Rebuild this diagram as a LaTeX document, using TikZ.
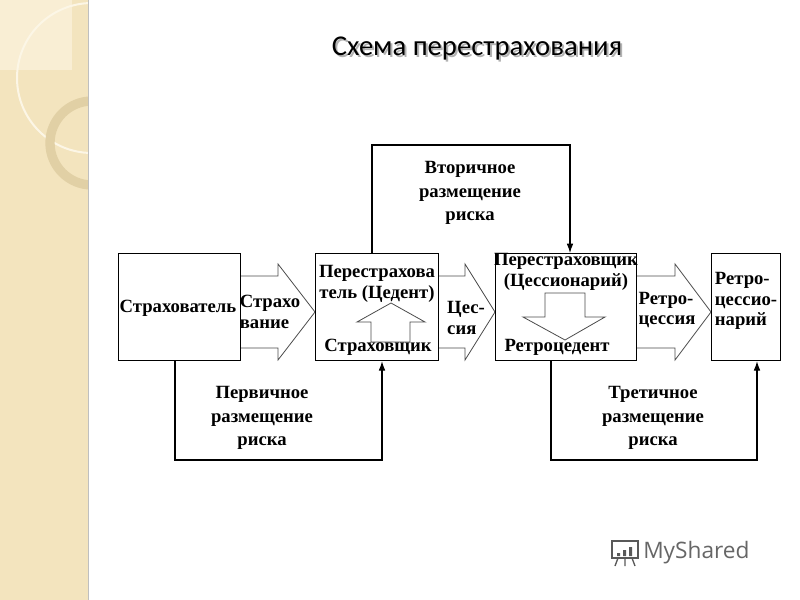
\documentclass[tikz,border=0pt]{standalone}
\usepackage{fontspec}
\setmainfont{Liberation Serif}
\newfontfamily\titlefont{Carlito}
\newfontfamily\logofont{Open Sans}
\usetikzlibrary{arrows.meta}
\definecolor{strip}{RGB}{243,228,190}
\definecolor{stripl}{RGB}{249,238,212}
\definecolor{ring}{RGB}{225,208,165}
\definecolor{ringw}{RGB}{252,246,230}
\begin{document}
\begin{tikzpicture}[x=0.75pt,y=-0.75pt,
  box/.style={draw=black,line width=0.9pt},
  lbl/.style={font=\fontsize{14}{15.5}\selectfont\bfseries,align=center,inner sep=0pt},
  lbl3/.style={lbl,font=\fontsize{14}{17.5}\selectfont\bfseries},
  con/.style={draw=black,line width=0.8pt},
  arr/.style={con,-{Latex[length=7pt,width=5pt]}},
  blk/.style={draw=black!70,line width=0.6pt,fill=white}]
\useasboundingbox (0,0) rectangle (800,600);
% left strip
\fill[strip] (0,0) rectangle (88,600);
\begin{scope}
\clip (0,0) rectangle (88,600);
\fill[stripl] (0,0) rectangle (72,70);
\draw[ringw,line width=1.5pt] (92,78) circle[radius=75];
\draw[ring,line width=7pt] (92,143) circle[radius=42];
\end{scope}
\draw[black!25,line width=0.6pt] (88,0) -- (88,600);
% title
\node[font=\titlefont\fontsize{21.5}{23}\selectfont,text=black!30] (tsh) at (479,51) {Схема перестрахования};
\node[font=\titlefont\fontsize{21.5}{23}\selectfont] (title) at (477,49) {Схема перестрахования};
% block arrows
\draw[blk] (240,276) -- (278,276) -- (278,264) -- (315,312) -- (278,360) -- (278,348) -- (240,348);
\draw[blk] (438,276) -- (465,276) -- (465,264) -- (495,312) -- (465,360) -- (465,348) -- (438,348);
\draw[blk] (636,276) -- (675,276) -- (675,264) -- (711,312) -- (675,360) -- (675,348) -- (636,348);
% boxes
\node[box,minimum width=122*0.75pt,minimum height=107*0.75pt,anchor=north west] (A) at (118,253) {};
\node[box,minimum width=123*0.75pt,minimum height=107*0.75pt,anchor=north west] (B) at (315,253) {};
\node[box,minimum width=141*0.75pt,minimum height=107*0.75pt,anchor=north west] (C) at (495,253) {};
\node[box,minimum width=69*0.75pt,minimum height=107*0.75pt,anchor=north west] (D) at (711,253) {};
% inner arrows
\draw[blk] (371,342) -- (371,322) -- (357,322) -- (391,303) -- (425,322) -- (410,322) -- (410,342) -- cycle;
\draw[blk] (545,293) -- (545,317) -- (523,317) -- (565,340) -- (605,317) -- (585,317) -- (585,293) -- cycle;
% labels
\node[lbl] (tA) at (178,308) {Страхователь};
\node[lbl,align=left] (t1) at (270,312) {Страхо\\вание};
\node[lbl] (tB1) at (377,284) {Перестрахова\\тель (Цедент)};
\node[lbl] (tB2) at (378,347) {Страховщик};
\node[lbl,align=left] (t2) at (466,318) {Цес-\\сия};
\node[lbl] (tC1) at (566,272) {Перестраховщик\\(Цессионарий)};
\node[lbl] (tC2) at (557,347) {Ретроцедент};
\node[lbl,align=left] (t3) at (667,310) {Ретро-\\цессия};
\node[lbl,align=left] (tD) at (746,301) {Ретро-\\цессио-\\нарий};
\node[lbl3] (v2) at (470,193) {Вторичное\\размещение\\риска};
\node[lbl3] (v1) at (262,418) {Первичное\\размещение\\риска};
\node[lbl3] (v3) at (653,418) {Третичное\\размещение\\риска};
% connectors
\coordinate (b1) at (372,145); \coordinate (b2) at (570,145);
\draw[arr] (B.north -| b1) -- (b1) -- (b2) -- (C.north -| b2);
\coordinate (a1) at (175,460); \coordinate (a2) at (382,460);
\draw[arr] (A.south -| a1) -- (a1) -- (a2) -- (B.south -| a2);
\coordinate (c1) at (551,460); \coordinate (c2) at (757,460);
\draw[arr] (C.south -| c1) -- (c1) -- (c2) -- (D.south -| c2);
% logo
\draw[black!65,line width=1pt] (612,541) rectangle (638,558);
\fill[black!65] (617,553) rectangle (620,556) (623,550) rectangle (626,556) (629,547) rectangle (632,556);
\draw[black!65,line width=1pt] (618,558) -- (615,566) (625,558) -- (625,566) (632,558) -- (635,566);
\node[font=\logofont\fontsize{17}{18}\selectfont,text=black!60,anchor=west,inner sep=0pt] (logo) at (643,553) {MyShared};
\end{tikzpicture}
\end{document}
